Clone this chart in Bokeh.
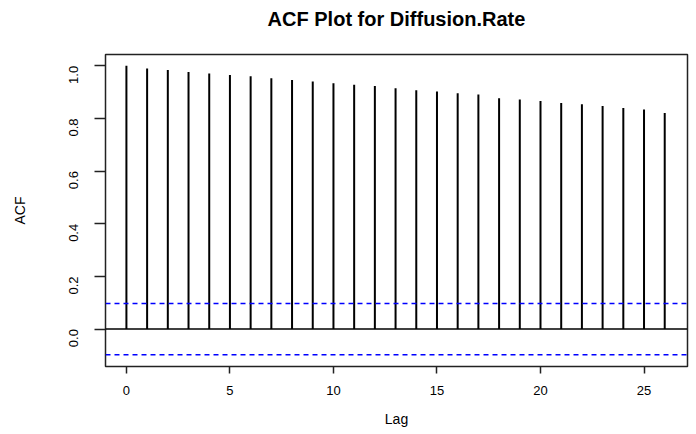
import math
from bokeh.plotting import figure
from bokeh.models import Span, FixedTicker, Range1d, Title
from bokeh.embed import file_html
from bokeh.resources import INLINE

# data
lags = list(range(27))
acf = [1.000, 0.990, 0.984, 0.977, 0.971, 0.965, 0.960, 0.953, 0.946, 0.940,
       0.934, 0.928, 0.923, 0.915, 0.907, 0.902, 0.896, 0.891, 0.877, 0.872,
       0.866, 0.859, 0.854, 0.847, 0.840, 0.834, 0.821]
conf_limit = 0.097
x_ticks = [0, 5, 10, 15, 20, 25]
y_ticks = [0.0, 0.2, 0.4, 0.6, 0.8, 1.0]
y_tick_labels = {0.0: "0.0", 0.2: "0.2", 0.4: "0.4", 0.6: "0.6", 0.8: "0.8", 1.0: "1.0"}
title_text = "ACF Plot for Diffusion.Rate"

FONT = "Liberation Sans"

p = figure(width=690, height=434, output_backend="svg", toolbar_location=None,
           x_range=Range1d(-1.01, 27.1), y_range=Range1d(-0.142, 1.043),
           title=title_text,
           min_border_left=105, min_border_right=3, min_border_top=54, min_border_bottom=68)

# spacer between frame and title (pushes the title up)
p.add_layout(Title(text=" ", text_font_size="1px", standoff=14), "above")

p.title.align = "center"
p.title.vertical_align = "top"
p.title.text_font = FONT
p.title.text_font_size = "20px"
p.title.text_font_style = "bold"
p.title.text_color = "black"
p.title.standoff = 12

p.grid.visible = False
p.outline_line_color = "#222222"
p.outline_line_width = 1.5
p.border_fill_color = "white"
p.background_fill_color = "white"

# zero line
p.add_layout(Span(location=0, dimension="width", line_color="black", line_width=1.5))
# confidence bounds
for c in (conf_limit, -conf_limit):
    p.add_layout(Span(location=c, dimension="width", line_color="#0000FF",
                      line_width=1.5, line_dash="5 4"))

p.segment(x0=lags, y0=[0] * len(lags), x1=lags, y1=acf, line_color="black", line_width=2)

# axes
p.xaxis.ticker = FixedTicker(ticks=x_ticks)
p.yaxis.ticker = FixedTicker(ticks=y_ticks)
p.yaxis.major_label_overrides = y_tick_labels
for ax in (p.xaxis[0], p.yaxis[0]):
    ax.axis_line_color = None
    ax.minor_tick_line_color = None
    ax.major_tick_in = 0
    ax.major_tick_line_color = "#222222"
    ax.major_tick_line_width = 1.5
    ax.major_label_text_font = FONT
    ax.major_label_text_font_size = "13px"
    ax.major_label_text_color = "black"
    ax.axis_label_text_font = FONT
    ax.axis_label_text_font_style = "normal"
    ax.axis_label_text_color = "black"

p.xaxis.major_tick_out = 7
p.xaxis.major_label_standoff = 12
p.xaxis.axis_label = "Lag"
p.xaxis.axis_label_text_font_size = "14px"
p.xaxis.axis_label_standoff = 13

p.yaxis.major_tick_out = 11
p.yaxis.major_label_orientation = math.pi / 2
p.yaxis.major_label_standoff = 21
p.yaxis.axis_label = "ACF"
p.yaxis.axis_label_text_font_size = "14px"
p.yaxis.axis_label_standoff = 34

open("out.html", "w").write(file_html(p, INLINE))
